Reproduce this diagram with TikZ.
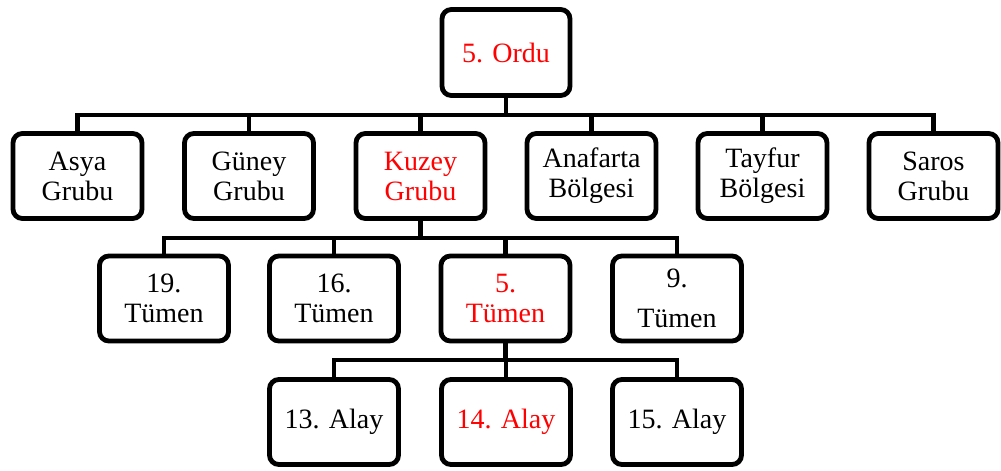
\documentclass[tikz,border=0pt]{standalone}
\usepackage{fontspec}
\setmainfont{Liberation Serif}
\definecolor{hred}{RGB}{255,0,0}
\begin{document}
\begin{tikzpicture}[x=0.75pt,y=-0.75pt,
  box/.style={draw=black,line width=3.6pt,rounded corners=7pt,fill=white,align=center,
    inner sep=0pt,minimum width=96.75pt,minimum height=63.75pt,
    font=\fontsize{21}{22.5}\selectfont},
  topbox/.style={box,minimum width=96pt,minimum height=64.5pt},
  hl/.style={text=hred},
  link/.style={draw=black,line width=3.2pt}]
\useasboundingbox (0,0) rectangle (1001,471);
% bus levels
\coordinate (busA) at (0,115);
\coordinate (busB) at (0,238);
\coordinate (busC) at (0,360);
% nodes
\node[topbox,hl] (ordu) at (506,52.5) {5. Ordu};
\node[box] (asya) at (77.5,176) {Asya\\Grubu};
\node[box] (guney) at (249,176) {Güney\\Grubu};
\node[box,hl] (kuzey) at (420.5,176) {Kuzey\\Grubu};
\node[box] (anafarta) at (591.5,176) {Anafarta\\Bölgesi};
\node[box] (tayfur) at (762.5,176) {Tayfur\\Bölgesi};
\node[box] (saros) at (933.5,176) {Saros\\Grubu};
\node[box] (t19) at (164,298.5) {19.\\Tümen};
\node[box] (t16) at (334,298.5) {16.\\Tümen};
\node[box,hl] (t5) at (505.5,298.5) {5.\\Tümen};
\node[box] (t9) at (677,298.5) {9.\\[7.5pt]Tümen};
\node[box] (a13) at (334,422) {13. Alay};
\node[box,hl] (a14) at (506,422) {14. Alay};
\node[box] (a15) at (677,422) {15. Alay};
% connectors
\foreach \c in {asya,guney,kuzey,anafarta,tayfur,saros}
  \draw[link] (ordu.south) -- (ordu.south |- busA) -| (\c.north);
\foreach \c in {t19,t16,t5,t9}
  \draw[link] (kuzey.south) -- (kuzey.south |- busB) -| (\c.north);
\foreach \c in {a13,a14,a15}
  \draw[link] (t5.south) -- (t5.south |- busC) -| (\c.north);
\end{tikzpicture}
\end{document}
